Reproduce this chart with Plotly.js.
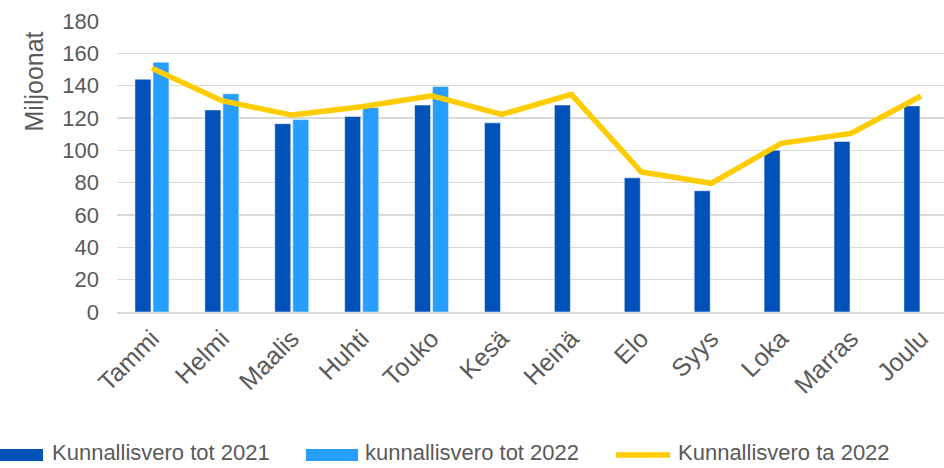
<!DOCTYPE html>
<html>
<head>
<meta charset="utf-8">
<script src="https://cdn.plot.ly/plotly-3.0.1.min.js"></script>
<style>
  html, body { margin: 0; padding: 0; background: #fff; }
  #chart { width: 944px; height: 468px; }
</style>
</head>
<body>
<div id="chart"></div>
<script>
// Data
const months = ['Tammi', 'Helmi', 'Maalis', 'Huhti', 'Touko', 'Kesä', 'Heinä', 'Elo', 'Syys', 'Loka', 'Marras', 'Joulu'];
const tot2021 = [144, 125, 116.5, 121, 128, 117, 128, 83, 75, 100, 105.5, 127.5];
const tot2022 = [154.5, 135, 119, 126.5, 139.5, null, null, null, null, null, null, null];
const ta2022 = [150.7, 130.7, 121.8, 127, 133.8, 122.2, 134.6, 86.6, 79.6, 104.3, 110.5, 133.6];
const yTicks = [0, 20, 40, 60, 80, 100, 120, 140, 160, 180];
const seriesNames = ['Kunnallisvero tot 2021', 'kunnallisvero tot 2022', 'Kunnallisvero ta 2022'];

const colDark = '#0052ba';
const colLight = '#279dff';
const colLine = '#ffcc00';
const textColor = '#595959';
const gridColor = '#d9d9d9';
const font = 'Liberation Sans, Arial, sans-serif';

const traces = [
  {
    x: months,
    y: tot2021,
    type: 'bar',
    name: seriesNames[0],
    marker: { color: colDark, line: { color: 'rgba(255,255,255,0.5)', width: 1 } }
  },
  {
    x: months,
    y: tot2022,
    type: 'bar',
    name: seriesNames[1],
    marker: { color: colLight, line: { color: 'rgba(255,255,255,0.5)', width: 1 } }
  },
  {
    x: months,
    y: ta2022,
    type: 'scatter',
    mode: 'lines',
    name: seriesNames[2],
    line: { color: colLine, width: 5.5 }
  }
];

// Legend drawn by hand (the built-in one pushes the margins and has small keys)
const legendKeys = [
  { type: 'rect', xref: 'paper', yref: 'paper', x0: -0.1415, x1: -0.0895, y0: -0.512, y1: -0.471,
    fillcolor: colDark, line: { width: 0 } },
  { type: 'rect', xref: 'paper', yref: 'paper', x0: 0.2285, x1: 0.2914, y0: -0.512, y1: -0.471,
    fillcolor: colLight, line: { width: 0 } },
  { type: 'line', xref: 'paper', yref: 'paper', x0: 0.6034, x1: 0.6687, y0: -0.4914, y1: -0.4914,
    line: { color: colLine, width: 5.5 } }
];
const legendX = [-0.081, 0.2975, 0.6759];
const legendLabels = seriesNames.map((name, i) => ({
  text: name,
  xref: 'paper', yref: 'paper',
  x: legendX[i], y: -0.4845,
  xanchor: 'left', yanchor: 'middle',
  showarrow: false,
  font: { family: font, size: 22, color: textColor }
}));

const layout = {
  width: 944,
  height: 468,
  margin: { l: 117, r: 0, t: 21, b: 156 },
  paper_bgcolor: '#fff',
  plot_bgcolor: '#fff',
  font: { family: font, size: 20, color: textColor },
  barmode: 'group',
  bargap: 0.485,
  bargroupgap: 0.11,
  showlegend: false,
  xaxis: {
    type: 'category',
    range: [-0.5, 11.33],
    tickangle: -45,
    tickfont: { family: font, size: 25, color: textColor },
    showgrid: false,
    showline: true,
    linecolor: gridColor,
    linewidth: 2,
    ticks: '',
    ticklabelstandoff: 0,
    automargin: false,
    fixedrange: true
  },
  yaxis: {
    range: [0, 180],
    tickvals: yTicks,
    tickfont: { family: font, size: 22, color: textColor },
    showgrid: true,
    gridcolor: gridColor,
    gridwidth: 1.5,
    zeroline: false,
    ticks: '',
    ticklabelstandoff: 17,
    automargin: false,
    fixedrange: true
  },
  shapes: legendKeys,
  annotations: [
    {
      text: 'Miljoonat',
      xref: 'paper', yref: 'paper',
      x: -0.1004, y: 0.792,
      xanchor: 'center', yanchor: 'middle',
      textangle: -90,
      showarrow: false,
      font: { family: font, size: 25, color: textColor }
    }
  ].concat(legendLabels)
};

Plotly.newPlot('chart', traces, layout, { displayModeBar: false, staticPlot: true });
</script>
</body>
</html>
